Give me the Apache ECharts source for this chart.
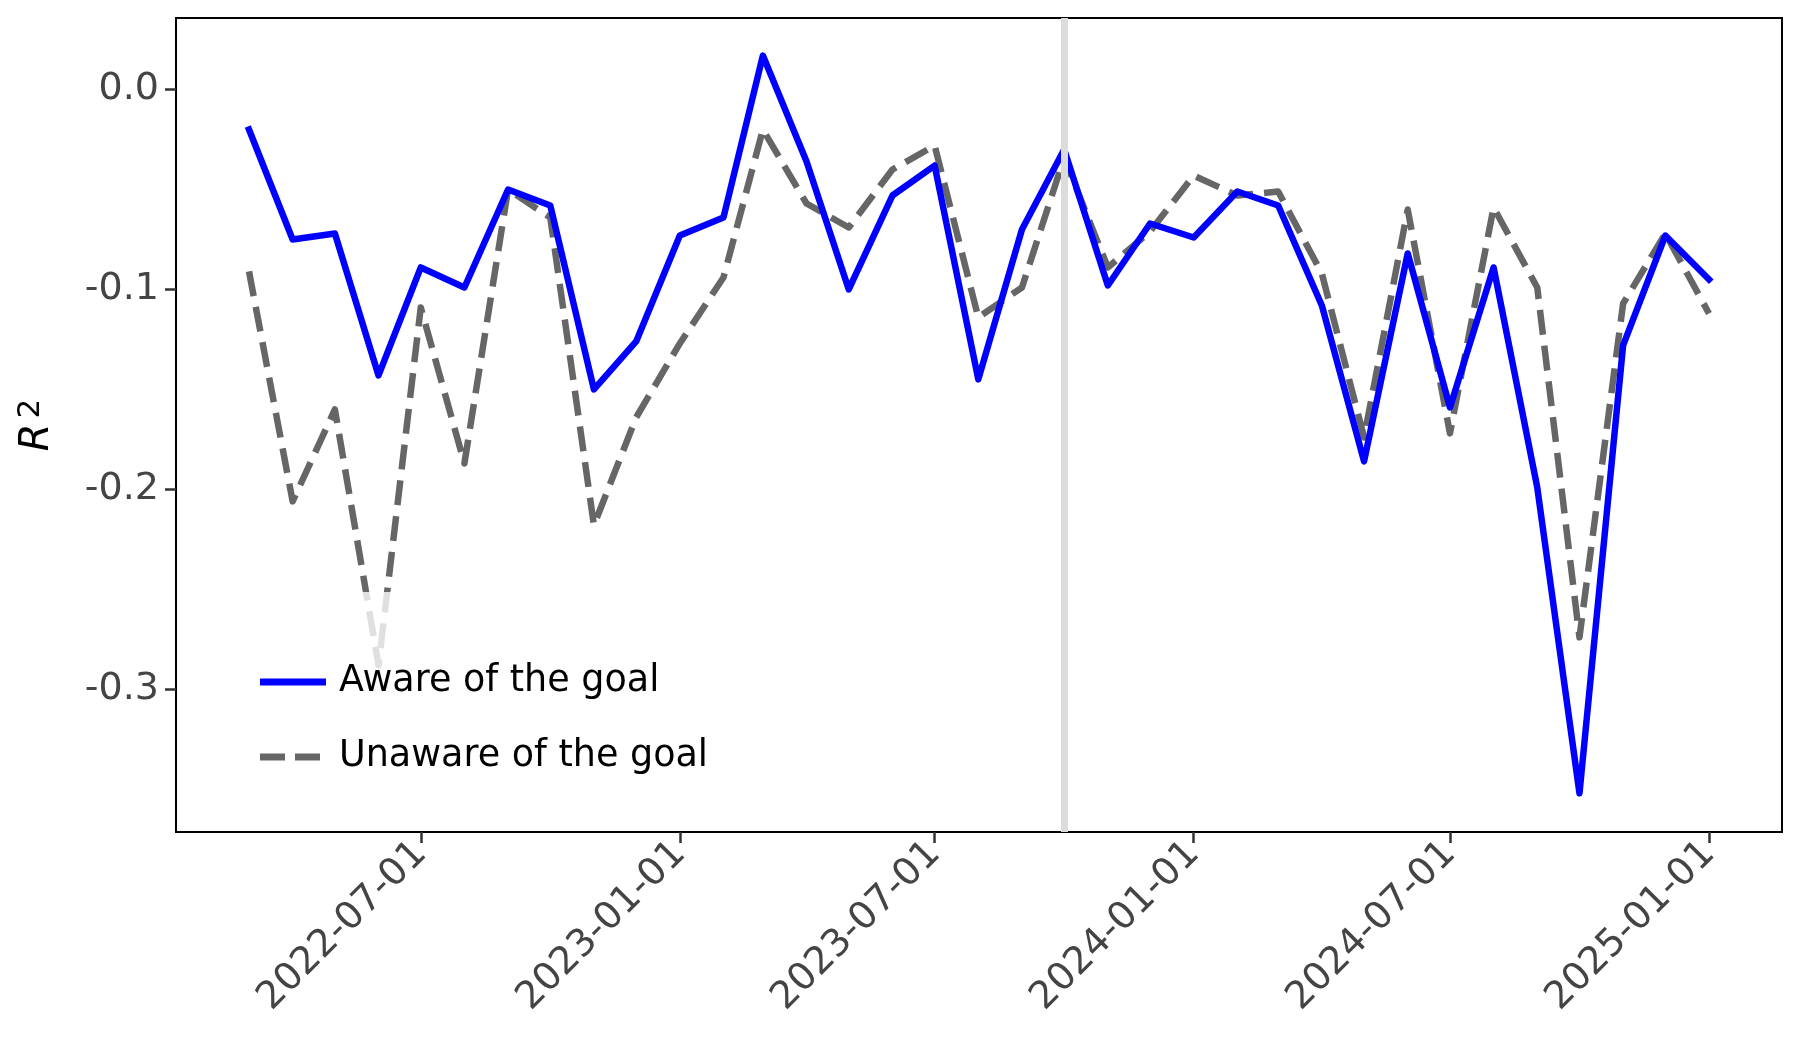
<!DOCTYPE html>
<html>
<head>
<meta charset="utf-8">
<script src="https://cdn.jsdelivr.net/npm/echarts@6/dist/echarts.min.js"></script>
<style>
html,body{margin:0;padding:0;background:#fff;}
#chart{width:1800px;height:1050px;}
</style>
</head>
<body>
<div id="chart"></div>
<script>
// ---- data ----
const months = [
  '2022-03-01','2022-04-01','2022-05-01','2022-06-01','2022-07-01','2022-08-01','2022-09-01',
  '2022-10-01','2022-11-01','2022-12-01','2023-01-01','2023-02-01','2023-03-01','2023-04-01',
  '2023-05-01','2023-06-01','2023-07-01','2023-08-01','2023-09-01','2023-10-01','2023-11-01',
  '2023-12-01','2024-01-01','2024-02-01','2024-03-01','2024-04-01','2024-05-01','2024-06-01',
  '2024-07-01','2024-08-01','2024-09-01','2024-10-01','2024-11-01','2024-12-01','2025-01-01'
];
const aware = [
  -0.020, -0.075, -0.072, -0.143, -0.089, -0.099, -0.050,
  -0.058, -0.150, -0.126, -0.073, -0.064, 0.017, -0.036,
  -0.100, -0.053, -0.038, -0.145, -0.070, -0.030, -0.098,
  -0.067, -0.074, -0.051, -0.058, -0.108, -0.186, -0.082,
  -0.159, -0.089, -0.199, -0.352, -0.128, -0.073, -0.095
];
const unaware = [
  -0.091, -0.206, -0.160, -0.288, -0.109, -0.187, -0.050,
  -0.064, -0.218, -0.164, -0.127, -0.094, -0.020, -0.057,
  -0.069, -0.040, -0.028, -0.114, -0.099, -0.034, -0.089,
  -0.071, -0.043, -0.053, -0.051, -0.092, -0.174, -0.060,
  -0.172, -0.059, -0.099, -0.274, -0.107, -0.072, -0.112
];
const seriesNames = ['Aware of the goal', 'Unaware of the goal'];
const xTickLabels = ['2022-07-01','2023-01-01','2023-07-01','2024-01-01','2024-07-01','2025-01-01'];
const yTickValues = [-0.3, -0.2, -0.1, 0.0];
const markerDate = '2023-10-01';

// ---- helpers ----
function ts(s){ const p = s.split('-').map(Number); return Date.UTC(p[0], p[1]-1, p[2]); }
function fmt(t){
  const d = new Date(Math.round(t));
  const m = String(d.getUTCMonth()+1).padStart(2,'0');
  const dd = String(d.getUTCDate()).padStart(2,'0');
  return d.getUTCFullYear() + '-' + m + '-' + dd;
}
const x0 = ts(months[0]), x1 = ts(months[months.length-1]);
const pad = (x1 - x0) * 0.05;
const font = 'DejaVu Sans';

// legend handle shapes (66 x 7 boxes)
const solidIcon = 'path://M0,0h66v7h-66z';
const dashIcon = 'path://M0,0h25v7h-25z M35,0h25v7h-25z M65.9,3.4h0.1v0.1h-0.1z';

const chart = echarts.init(document.getElementById('chart'), null, {renderer:'canvas'});
chart.setOption({
  animation: false,
  backgroundColor: '#ffffff',
  textStyle: {fontFamily: font},
  grid: {left:176, right:18, top:18, bottom:218, show:true, borderColor:'#000', borderWidth:2, backgroundColor:'transparent'},
  legend: {
    orient: 'vertical',
    left: 194, top: 592,
    padding: [70, 24, 37, 66],
    itemWidth: 66, itemHeight: 7, itemGap: 35,
    backgroundColor: 'rgba(255,255,255,0.8)',
    textStyle: {fontFamily: font, fontSize: 36.5, color: '#000', lineHeight: 40, padding:[0,0,0,8]},
    data: [
      {name: seriesNames[0], icon: solidIcon},
      {name: seriesNames[1], icon: dashIcon}
    ]
  },
  xAxis: {
    type: 'value',
    min: x0 - pad, max: x1 + pad,
    splitLine: {show:false},
    axisLine: {show:true, onZero:false, lineStyle:{color:'#000', width:2}},
    axisTick: {show:true, length:11, lineStyle:{color:'#333', width:2.5}, customValues: xTickLabels.map(ts)},
    axisLabel: {
      show:true, rotate:45, fontSize:38, color:'#444', fontFamily:font, margin:16,
      customValues: xTickLabels.map(ts),
      formatter: v => fmt(v)
    }
  },
  yAxis: {
    type: 'value',
    min: -0.3714, max: 0.0358,
    name: '{r|R}{s|2}',
    nameLocation: 'middle', nameGap: 116, nameRotate: 90,
    nameTextStyle: {rich:{
      r:{fontFamily:font, fontStyle:'italic', fontSize:40, color:'#000'},
      s:{fontFamily:font, fontSize:31, color:'#000', verticalAlign:'top', padding:[0,0,14,5]}
    }},
    splitLine: {show:false},
    axisLine: {show:true, onZero:false, lineStyle:{color:'#000', width:2}},
    axisTick: {show:true, length:11, lineStyle:{color:'#333', width:2.5}, customValues: yTickValues},
    axisLabel: {
      show:true, fontSize:38, color:'#444', fontFamily:font, margin:17,
      customValues: yTickValues,
      formatter: v => v.toFixed(1)
    }
  },
  series: [
    {
      name: 'marker', type: 'line', data: [], z: 1, silent: true,
      markLine: {
        silent: true, symbol: ['none','none'], label:{show:false},
        lineStyle: {color:'#dcdcdc', width:7, type:'solid'},
        data: [{xAxis: ts(markerDate)}]
      }
    },
    {
      name: seriesNames[1], type: 'line', z: 2,
      symbol: 'none',
      lineStyle: {color:'#666666', width:6.5, type:[25,11], join:'round', cap:'butt'},
      itemStyle: {color:'#666666'},
      data: months.map((m,i) => [ts(m), unaware[i]])
    },
    {
      name: seriesNames[0], type: 'line', z: 3,
      symbol: 'none',
      lineStyle: {color:'#0000ff', width:6.5, type:'solid', join:'round', cap:'square'},
      itemStyle: {color:'#0000ff'},
      data: months.map((m,i) => [ts(m), aware[i]])
    }
  ]
});
</script>
</body>
</html>
